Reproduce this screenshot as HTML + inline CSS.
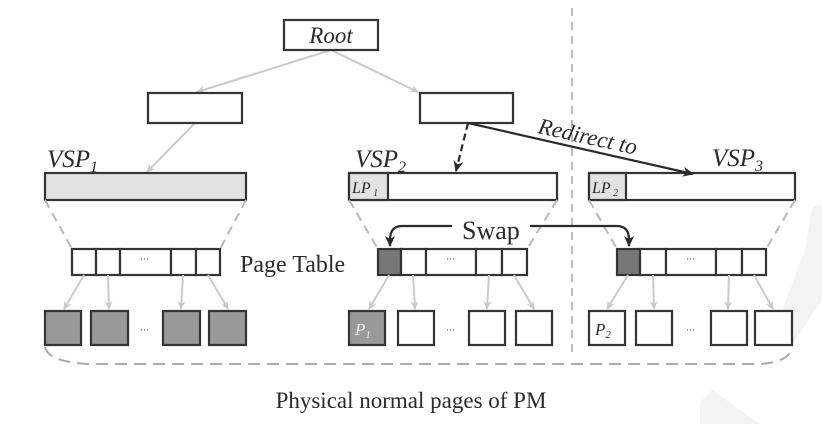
<!DOCTYPE html>
<html><head><meta charset="utf-8"><style>
html,body{margin:0;padding:0;background:#fff;}
svg{display:block;}
svg text, svg tspan{font-family:"Liberation Serif","DejaVu Serif",serif !important;}
text{fill:#2a2a2e;}
</style></head><body>
<svg width="822" height="424" viewBox="0 0 822 424" xmlns="http://www.w3.org/2000/svg" font-family="Liberation Serif, serif">
<defs>
<marker id="ga" markerWidth="10" markerHeight="10" refX="8" refY="5" orient="auto" markerUnits="userSpaceOnUse"><path d="M0,1 L9,5 L0,9 L3,5 Z" fill="#c8c8c8"/></marker>
<marker id="ka" markerWidth="12" markerHeight="12" refX="10" refY="6" orient="auto" markerUnits="userSpaceOnUse"><path d="M0,1 L11,6 L0,11 L3,6 Z" fill="#2a2a2e"/></marker>
</defs>
<polygon points="812,208 822,204 822,300 792,345 772,335 790,290 805,250" fill="#f3f3f3"/>
<polygon points="700,402 712,390 760,424 700,424" fill="#f3f3f3"/>

<line x1="572" y1="8" x2="572" y2="358" stroke="#bbb" stroke-width="2" stroke-dasharray="8,6"/>

<g stroke="#cacaca" stroke-width="2" fill="none">
<line x1="331" y1="50" x2="197" y2="92" marker-end="url(#ga)"/>
<line x1="331" y1="50" x2="418" y2="92" marker-end="url(#ga)"/>
<line x1="195" y1="123" x2="147" y2="172" marker-end="url(#ga)"/>
</g>

<g stroke="#333338" stroke-width="2.2">
<rect x="284" y="20" width="94" height="30" fill="#fff"/>
<rect x="148" y="93" width="94" height="30" fill="#fff"/>
<rect x="420" y="93" width="93" height="30" fill="#fff"/>
<rect x="45" y="173" width="201" height="27" fill="#e2e2e2"/>
<rect x="349" y="173" width="208" height="27" fill="#fff"/>
<rect x="349" y="173" width="39" height="27" fill="#e2e2e2"/>
<rect x="589" y="173" width="206" height="27" fill="#fff"/>
<rect x="589" y="173" width="37" height="27" fill="#e2e2e2"/>
</g>
<text x="331" y="43" font-size="23" font-style="italic" text-anchor="middle">Root</text>
<text x="47" y="167" font-size="25" font-style="italic">VSP<tspan font-size="16" dy="5">1</tspan></text>
<text x="355" y="167" font-size="25" font-style="italic">VSP<tspan font-size="16" dy="5">2</tspan></text>
<text x="712" y="166" font-size="25" font-style="italic">VSP<tspan font-size="16" dy="5">3</tspan></text>
<text x="352" y="193" font-size="16" font-style="italic">LP<tspan font-size="10" dy="3"> 1</tspan></text>
<text x="592" y="193" font-size="16" font-style="italic">LP<tspan font-size="10" dy="3"> 2</tspan></text>

<line x1="468" y1="123" x2="456" y2="171" stroke="#2a2a2e" stroke-width="2.2" stroke-dasharray="7,4" marker-end="url(#ka)"/>
<line x1="468" y1="123" x2="693" y2="174" stroke="#2a2a2e" stroke-width="2.2" marker-end="url(#ka)"/>
<text x="0" y="0" font-size="23" font-style="italic" transform="translate(537,133) rotate(12.5)">Redirect to</text>

<g stroke="#b8b8b8" stroke-width="2" stroke-dasharray="9,6" fill="none">
<line x1="45" y1="200" x2="72" y2="249"/><line x1="246" y1="200" x2="220" y2="249"/>
<line x1="349" y1="200" x2="378" y2="249"/><line x1="557" y1="200" x2="527" y2="249"/>
<line x1="589" y1="200" x2="617" y2="249"/><line x1="795" y1="200" x2="766" y2="249"/>
</g>

<g stroke="#333338" stroke-width="2.2" fill="#fff">
<rect x="72" y="249" width="24" height="26"/><rect x="96" y="249" width="24" height="26"/><rect x="120" y="249" width="51" height="26"/><rect x="171" y="249" width="25" height="26"/><rect x="196" y="249" width="24" height="26"/>
<rect x="378" y="249" width="23" height="26" fill="#777"/><rect x="401" y="249" width="25" height="26"/><rect x="426" y="249" width="50" height="26"/><rect x="476" y="249" width="26" height="26"/><rect x="502" y="249" width="25" height="26"/>
<rect x="617" y="249" width="23" height="26" fill="#777"/><rect x="640" y="249" width="26" height="26"/><rect x="666" y="249" width="50" height="26"/><rect x="716" y="249" width="26" height="26"/><rect x="742" y="249" width="24" height="26"/>
</g>
<g font-size="9" fill="#666"><text x="140" y="262">···</text><text x="446" y="262">···</text><text x="686" y="262">···</text>
<text x="140" y="333">···</text><text x="446" y="333">···</text><text x="686" y="333">···</text></g>
<text x="240" y="272" font-size="24">Page Table</text>

<text x="462" y="239" font-size="26">Swap</text>
<path d="M452,226 L402,226 Q390,226 390,240 L390,246" stroke="#2a2a2e" stroke-width="2.2" fill="none" marker-end="url(#ka)"/>
<path d="M530,226 L617,226 Q629,226 629,240 L629,246" stroke="#2a2a2e" stroke-width="2.2" fill="none" marker-end="url(#ka)"/>

<g stroke="#cacaca" stroke-width="2" fill="none">
<line x1="84" y1="275" x2="64" y2="309" marker-end="url(#ga)"/><line x1="108" y1="275" x2="109" y2="309" marker-end="url(#ga)"/><line x1="183" y1="275" x2="181" y2="309" marker-end="url(#ga)"/><line x1="208" y1="275" x2="228" y2="309" marker-end="url(#ga)"/>
<line x1="389" y1="275" x2="369" y2="309" marker-end="url(#ga)"/><line x1="413" y1="275" x2="415" y2="309" marker-end="url(#ga)"/><line x1="489" y1="275" x2="487" y2="309" marker-end="url(#ga)"/><line x1="514" y1="275" x2="534" y2="309" marker-end="url(#ga)"/>
<line x1="628" y1="275" x2="607" y2="309" marker-end="url(#ga)"/><line x1="653" y1="275" x2="654" y2="309" marker-end="url(#ga)"/><line x1="729" y1="275" x2="728" y2="309" marker-end="url(#ga)"/><line x1="754" y1="275" x2="773" y2="309" marker-end="url(#ga)"/>
</g>

<g stroke="#333338" stroke-width="2.2" fill="#fff">
<rect x="45" y="311" width="36" height="34" fill="#999"/><rect x="91" y="311" width="37" height="34" fill="#999"/><rect x="163" y="311" width="37" height="34" fill="#999"/><rect x="209" y="311" width="37" height="34" fill="#999"/>
<rect x="349" y="311" width="36" height="34" fill="#999"/><rect x="398" y="311" width="36" height="34"/><rect x="469" y="311" width="36" height="34"/><rect x="516" y="311" width="36" height="34"/>
<rect x="589" y="311" width="36" height="34"/><rect x="636" y="311" width="36" height="34"/><rect x="711" y="311" width="36" height="34"/><rect x="755" y="311" width="37" height="34"/>
</g>
<text x="355" y="335" font-size="17" font-style="italic" style="fill:#eee">P<tspan font-size="11" dy="3">1</tspan></text>
<text x="595" y="335" font-size="17" font-style="italic">P<tspan font-size="11" dy="3">2</tspan></text>

<path d="M45,347 Q48,362 90,364 L760,364 Q790,362 792,347" stroke="#aaa" stroke-width="2" fill="none" stroke-dasharray="12,7"/>
<text x="411" y="408" font-size="23" text-anchor="middle">Physical normal pages of PM</text>
</svg>
</body></html>
